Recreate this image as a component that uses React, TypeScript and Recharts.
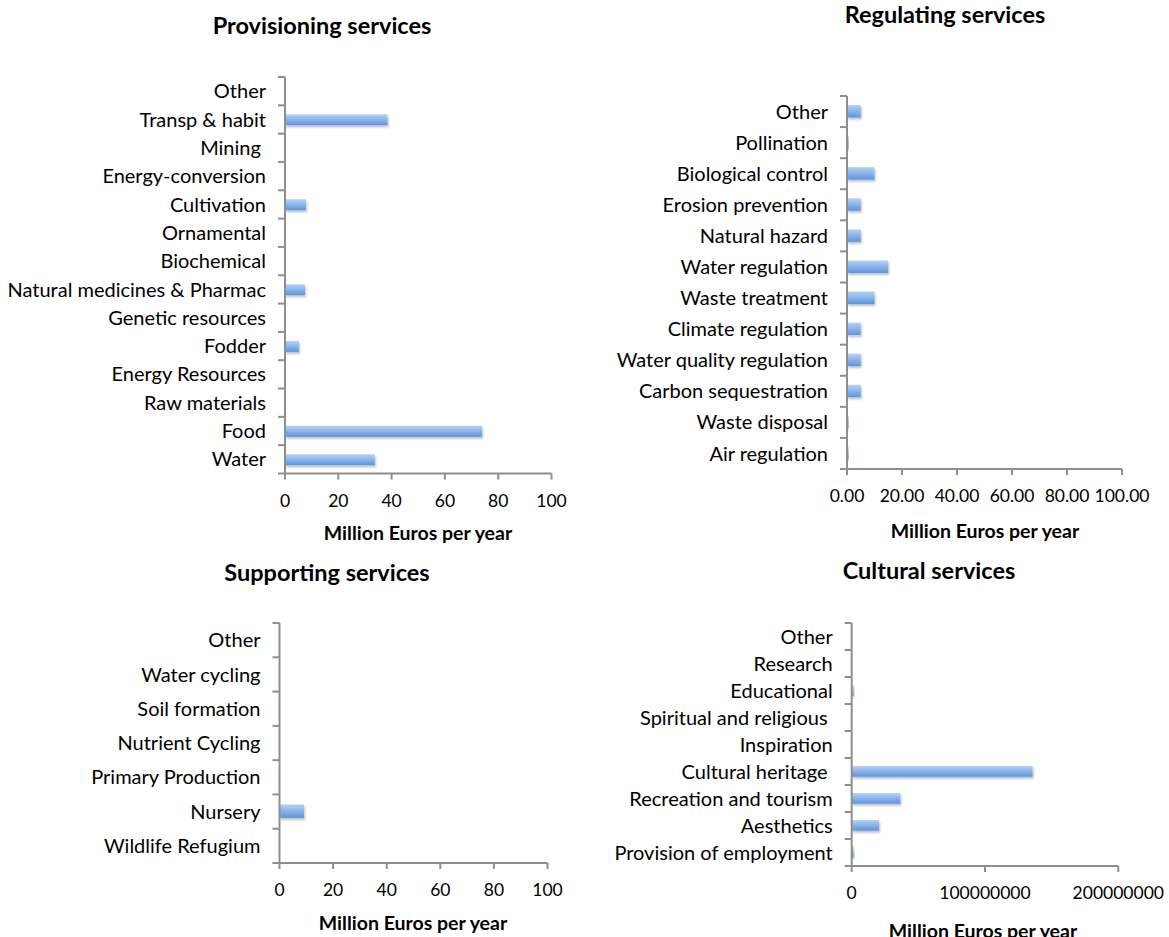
import React from 'react';
import { BarChart, Bar, XAxis, YAxis } from 'recharts';

// categories are listed top to bottom, as in the figure
const provisioningCategories = [
  'Other', 'Transp & habit', 'Mining\u00a0', 'Energy-conversion', 'Cultivation', 'Ornamental', 'Biochemical',
  'Natural medicines & Pharmac', 'Genetic resources', 'Fodder', 'Energy Resources', 'Raw materials', 'Food', 'Water',
];
const provisioningValues = [0, 38.5, 0, 0, 7.9, 0, 0, 7.5, 0, 5.2, 0, 0, 74, 33.7];

const regulatingCategories = [
  'Other', 'Pollination', 'Biological control', 'Erosion prevention', 'Natural hazard', 'Water regulation',
  'Waste treatment', 'Climate regulation', 'Water quality regulation', 'Carbon sequestration', 'Waste disposal',
  'Air regulation',
];
const regulatingValues = [5, 0.6, 10, 5, 5, 15, 10, 5, 5, 5, 0.6, 0.6];

const supportingCategories = [
  'Other', 'Water cycling', 'Soil formation', 'Nutrient Cycling', 'Primary Production', 'Nursery', 'Wildlife Refugium',
];
const supportingValues = [0, 0, 0, 0, 0, 9.2, 0];

const culturalCategories = [
  'Other', 'Research', 'Educational', 'Spiritual and religious\u00a0', 'Inspiration', 'Cultural heritage\u00a0',
  'Recreation and tourism', 'Aesthetics', 'Provision of employment',
];
const culturalValues = [0, 0, 1500000, 0, 0, 135700000, 36500000, 20500000, 1500000];

const euroTicks = [0, 20, 40, 60, 80, 100];
const culturalTicks = [0, 100000000, 200000000];

const AXIS = '#8e8e8e';
const FONT = 'Lato, "Open Sans", sans-serif';

type Rect = { left: number; top: number; right: number; bottom: number };
type Box = { left: number; top: number; width: number; height: number };

type PanelProps = {
  id: string;
  title: string;
  categories: string[];
  values: number[];
  ticks: number[];
  formatTick: (v: number) => string;
  box: Box;
  plot: Rect;
  barSize: number;
  titleAt: [number, number];
  labelAt: [number, number];
};

// category label plus the Excel-style tick marks between categories
function CategoryTick(props: any) {
  const { x, y, payload, index, band, axisX } = props;
  const half = band / 2;
  return (
    <g>
      <text x={x} y={y} dy="0.355em" textAnchor="end" fill="#000" fontSize={20} fontFamily={FONT}>
        {payload.value}
      </text>
      <line x1={axisX - 7} x2={axisX} y1={y + half} y2={y + half} stroke={AXIS} strokeWidth={2} />
      {index === 0 && (
        <line x1={axisX - 7} x2={axisX} y1={y - half} y2={y - half} stroke={AXIS} strokeWidth={2} />
      )}
    </g>
  );
}

function Panel({ id, title, categories, values, ticks, formatTick, box, plot, barSize, titleAt, labelAt }: PanelProps) {
  const data = categories.map((name, i) => ({ name, value: values[i] }));
  const band = (plot.bottom - plot.top) / categories.length;
  const xAxisHeight = 40;
  const margin = {
    top: plot.top - box.top,
    right: box.left + box.width - plot.right,
    bottom: box.top + box.height - plot.bottom - xAxisHeight,
    left: 0,
  };

  return (
    <>
      <div
        style={{
          position: 'absolute', left: titleAt[0], top: titleAt[1], transform: 'translate(-50%, -50%)',
          fontWeight: 700, fontSize: 23.5, whiteSpace: 'nowrap', color: '#000',
        }}
      >
        {title}
      </div>
      <div style={{ position: 'absolute', left: box.left, top: box.top }}>
        <BarChart width={box.width} height={box.height} data={data} layout="vertical" margin={margin}>
          <defs>
            <linearGradient id={`grad-${id}`} x1="0" y1="0" x2="0" y2="1">
              <stop offset="0%" stopColor="#b7d1f3" />
              <stop offset="45%" stopColor="#8db7ec" />
              <stop offset="100%" stopColor="#5c95de" />
            </linearGradient>
            <filter id={`shadow-${id}`} x="-10%" y="-30%" width="130%" height="180%">
              <feDropShadow dx="1" dy="2" stdDeviation="1" floodColor="#000" floodOpacity="0.25" />
            </filter>
          </defs>
          <YAxis
            type="category"
            dataKey="name"
            width={plot.left - box.left}
            axisLine={{ stroke: AXIS, strokeWidth: 2 }}
            tickLine={false}
            tickSize={8}
            tickMargin={11}
            interval={0}
            tick={(p: any) => <CategoryTick {...p} band={band} axisX={plot.left - box.left} />}
          />
          <XAxis
            type="number"
            domain={[ticks[0], ticks[ticks.length - 1]]}
            ticks={ticks}
            interval={0}
            height={xAxisHeight}
            tickFormatter={formatTick}
            tickSize={6}
            tickMargin={15}
            axisLine={{ stroke: AXIS, strokeWidth: 2 }}
            tickLine={{ stroke: AXIS, strokeWidth: 2 }}
            tick={{ fill: '#000', fontSize: 17.5, fontFamily: FONT }}
          />
          <Bar
            dataKey="value"
            barSize={barSize}
            fill={`url(#grad-${id})`}
            filter={`url(#shadow-${id})`}
            isAnimationActive={false}
          />
        </BarChart>
      </div>
      <div
        style={{
          position: 'absolute', left: labelAt[0], top: labelAt[1], transform: 'translate(-50%, -50%)',
          fontWeight: 700, fontSize: 19.5, whiteSpace: 'nowrap', color: '#000',
        }}
      >
        Million Euros per year
      </div>
    </>
  );
}

export default function App() {
  const plain = (v: number) => String(v);
  const twoDp = (v: number) => v.toFixed(2);
  return (
    <div
      style={{
        position: 'absolute', left: 0, top: 0, width: 1169, height: 937, background: '#fff',
        fontFamily: FONT, overflow: 'hidden',
      }}
    >
      <Panel
        id="prov"
        title="Provisioning services"
        categories={provisioningCategories}
        values={provisioningValues}
        ticks={euroTicks}
        formatTick={plain}
        box={{ left: 0, top: 60, width: 570, height: 470 }}
        plot={{ left: 285, top: 77, right: 551.5, bottom: 473.5 }}
        barSize={11}
        titleAt={[322, 25]}
        labelAt={[418, 532]}
      />
      <Panel
        id="reg"
        title="Regulating services"
        categories={regulatingCategories}
        values={regulatingValues}
        ticks={euroTicks}
        formatTick={twoDp}
        box={{ left: 570, top: 80, width: 590, height: 440 }}
        plot={{ left: 847, top: 96, right: 1122, bottom: 469 }}
        barSize={12.5}
        titleAt={[945, 14]}
        labelAt={[985, 530]}
      />
      <Panel
        id="sup"
        title="Supporting services"
        categories={supportingCategories}
        values={supportingValues}
        ticks={euroTicks}
        formatTick={plain}
        box={{ left: 0, top: 600, width: 570, height: 310 }}
        plot={{ left: 279.5, top: 623, right: 547.5, bottom: 863 }}
        barSize={13.5}
        titleAt={[327, 572]}
        labelAt={[413, 922]}
      />
      <Panel
        id="cul"
        title="Cultural services"
        categories={culturalCategories}
        values={culturalValues}
        ticks={culturalTicks}
        formatTick={plain}
        box={{ left: 570, top: 600, width: 599, height: 310 }}
        plot={{ left: 851.7, top: 623, right: 1118.3, bottom: 866 }}
        barSize={10.7}
        titleAt={[929, 570]}
        labelAt={[983, 930]}
      />
    </div>
  );
}
